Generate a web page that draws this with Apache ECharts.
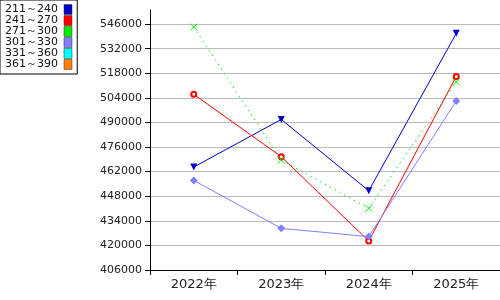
<!DOCTYPE html>
<html>
<head>
<meta charset="utf-8">
<script src="https://cdn.jsdelivr.net/npm/echarts@6/dist/echarts.min.js"></script>
<style>
  html, body { margin: 0; padding: 0; background: #fff; }
  #chart { width: 500px; height: 300px; }
</style>
</head>
<body>
<div id="chart"></div>
<script>
// chart data
const years = ['2022年', '2023年', '2024年', '2025年'];
const names = ['211～240', '241～270', '271～300', '301～330', '331～360', '361～390'];
const colors = ['#0000cc', '#ff0000', '#00ee00', '#8080ff', '#00ffff', '#ff8000'];
const s211 = [464600, 491700, 451100, 540700];
const s241 = [506000, 470500, 422500, 516200];
const s271 = [544300, 468600, 441100, 513100];
const s301 = [457000, 429700, 425000, 502200];
const s331 = [];
const s361 = [];

const yMin = 406000;
const yStep = 14000;
const yMax = 554000;

const font = 'DejaVu Sans, sans-serif';
const chart = echarts.init(document.getElementById('chart'), null, { renderer: 'canvas' });

// last split line (at the max) is hidden
const gridColors = [];
for (let v = yMin; v <= yMax; v += yStep) gridColors.push('#bbbbbb');
gridColors.push('transparent');

const xMark = 'path://M0,0L10,10M10,0L0,10';

const option = {
  animation: false,
  backgroundColor: '#fff',
  legend: {
    orient: 'vertical',
    left: 0,
    top: 0,
    align: 'right',
    padding: [4, 5, 4, 5],
    itemGap: 0,
    itemWidth: 8,
    itemHeight: 10,
    borderColor: '#000',
    borderWidth: 1,
    backgroundColor: '#fff',
    selectedMode: false,
    textStyle: { fontFamily: font, fontSize: 11, lineHeight: 11, color: '#111', padding: [0, 1, 0, 0] },
    data: names.map((n, i) => ({
      name: n,
      icon: 'rect',
      itemStyle: { color: colors[i], borderColor: '#333', borderWidth: 0.5 }
    }))
  },
  grid: { left: 150, right: 0, top: 10, bottom: 30 },
  xAxis: {
    type: 'category',
    data: years,
    boundaryGap: true,
    axisLine: { lineStyle: { color: '#000', width: 1 } },
    axisTick: { show: true, length: 5, lineStyle: { color: '#000' } },
    axisLabel: { fontFamily: font, fontSize: 13, color: '#222', margin: 8 },
    splitLine: { show: false }
  },
  yAxis: {
    type: 'value',
    min: yMin,
    max: yMax,
    interval: yStep,
    axisLine: { show: true, lineStyle: { color: '#000', width: 1 } },
    axisTick: { show: true, length: 5, lineStyle: { color: '#000' } },
    axisLabel: {
      fontFamily: font, fontSize: 11, color: '#222', margin: 8, showMaxLabel: false,
      formatter: v => String(v)
    },
    splitLine: { show: true, lineStyle: { color: gridColors, width: 1 } }
  },
  series: [
    {
      name: names[0], type: 'line', data: s211,
      symbol: 'triangle', symbolRotate: 180, symbolSize: 7,
      itemStyle: { color: colors[0] },
      lineStyle: { color: colors[0], width: 1 }
    },
    {
      name: names[1], type: 'line', data: s241,
      symbol: 'emptyCircle', symbolSize: 5,
      itemStyle: { color: colors[1], borderWidth: 1.5 },
      lineStyle: { color: colors[1], width: 1 }
    },
    {
      name: names[2], type: 'line', data: s271,
      symbol: xMark, symbolSize: 7,
      itemStyle: { color: 'transparent', borderColor: colors[2], borderWidth: 1 },
      lineStyle: { color: colors[2], width: 1, type: [1.5, 4] }
    },
    {
      name: names[3], type: 'line', data: s301,
      symbol: 'diamond', symbolSize: 8,
      itemStyle: { color: colors[3] },
      lineStyle: { color: colors[3], width: 1 }
    },
    { name: names[4], type: 'line', data: s331, itemStyle: { color: colors[4] } },
    { name: names[5], type: 'line', data: s361, itemStyle: { color: colors[5] } }
  ]
};

chart.setOption(option);
</script>
</body>
</html>
